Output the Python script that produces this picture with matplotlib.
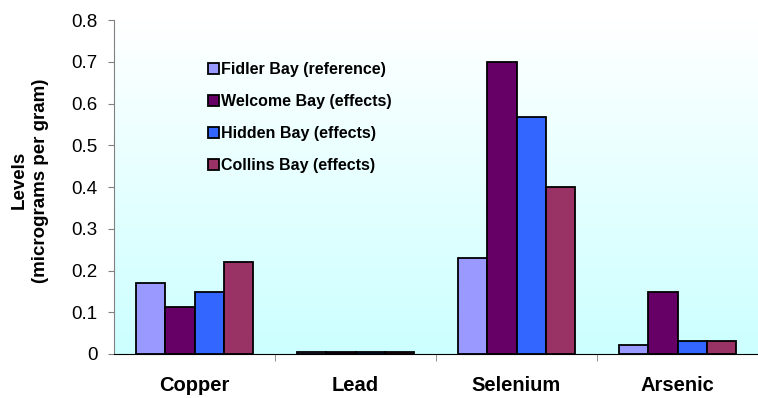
import matplotlib
matplotlib.use("Agg")
import matplotlib.pyplot as plt
import numpy as np
from matplotlib.colors import LinearSegmentedColormap

categories = ["Copper", "Lead", "Selenium", "Arsenic"]
series_names = ["Fidler Bay (reference)", "Welcome Bay (effects)",
                "Hidden Bay (effects)", "Collins Bay (effects)"]
fidler = [0.17, 0.005, 0.23, 0.022]
welcome = [0.112, 0.005, 0.70, 0.148]
hidden = [0.149, 0.005, 0.568, 0.03]
collins = [0.22, 0.005, 0.40, 0.03]
yticks = [0, 0.1, 0.2, 0.3, 0.4, 0.5, 0.6, 0.7, 0.8]
ytick_labels = ["0", "0.1", "0.2", "0.3", "0.4", "0.5", "0.6", "0.7", "0.8"]

colors = ["#9999ff", "#660066", "#3366ff", "#993366"]
series = [fidler, welcome, hidden, collins]

plt.rcParams['font.family'] = ['Liberation Sans', 'DejaVu Sans']

fig = plt.figure(figsize=(7.58, 3.98), dpi=100)
ax = fig.add_axes([0.1504, 0.1106, 0.8496, 0.839])

# gradient background
cmap = LinearSegmentedColormap.from_list("bg", ["#ccffff", "#ffffff"])
grad = np.linspace(0, 1, 256).reshape(-1, 1)
ax.imshow(grad, aspect="auto", cmap=cmap, origin="lower",
          extent=[-0.5, 3.5, 0, 0.8], zorder=0)

x = np.arange(len(categories))
w = 0.183
for i, (vals, c, name) in enumerate(zip(series, colors, series_names)):
    ax.bar(x + (i - 1.5) * w, vals, width=w, color=c, edgecolor="black",
           linewidth=1.3, label=name, zorder=2)

ax.set_xlim(-0.5, 3.5)
ax.set_ylim(0, 0.8)
ax.set_yticks(yticks)
ax.set_yticklabels(ytick_labels, fontsize=13.5)
ax.set_xticks(x)
ax.set_xticklabels(categories, fontsize=14.5, fontweight="bold")
ax.tick_params(axis="x", length=0, pad=16)
ax.set_xticks([0.5, 1.5, 2.5], minor=True)
ax.tick_params(axis="x", which="minor", length=5, color="#808080", direction="out")
ax.tick_params(axis="y", length=4.3, color="#808080", direction="out", pad=7.5)

for s in ["top", "right"]:
    ax.spines[s].set_visible(False)
ax.spines["left"].set_color("#808080")
ax.spines["bottom"].set_color("black")

ax.set_ylabel("Levels\n(micrograms per gram)", fontsize=13.5, fontweight="bold",
              linespacing=1.3)
ax.yaxis.set_label_coords(-0.101, 0.52)

leg = ax.legend(loc="upper left", bbox_to_anchor=(0.1455, 0.873), frameon=False,
                prop={"weight": "bold", "size": 11.5}, labelspacing=1.05,
                handlelength=0.7, handleheight=0.7, handletextpad=0.15,
                borderpad=0, borderaxespad=0)

fig.savefig("out.png", dpi=100)
